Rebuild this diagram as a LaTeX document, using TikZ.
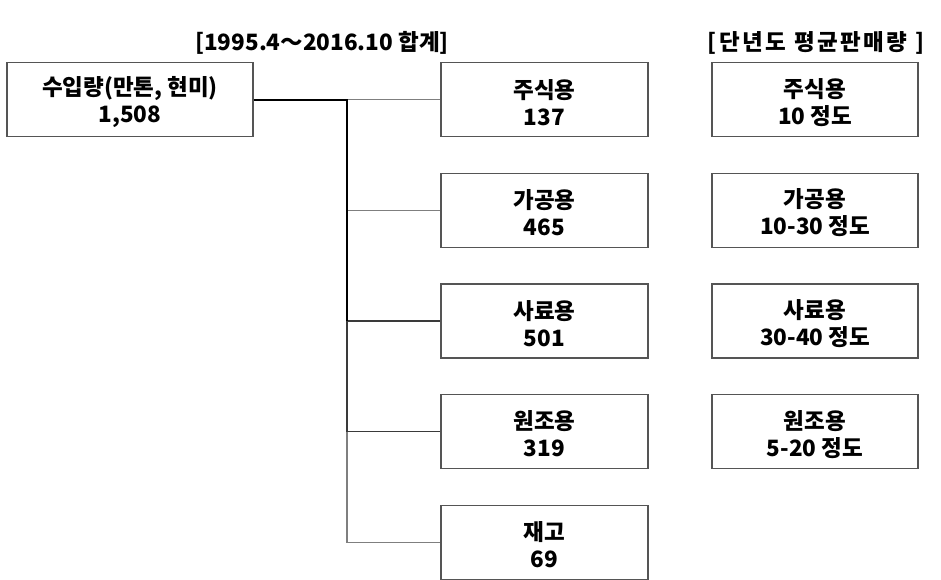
\documentclass[tikz,border=0pt]{standalone}
\usepackage{fontspec}
\newfontfamily\kr{Noto Sans CJK KR}
\newfontfamily\krwide[LetterSpace=11]{Noto Sans CJK KR}
\definecolor{boxline}{HTML}{555555}
\definecolor{branchline}{HTML}{7F7F7F}
\definecolor{midline}{HTML}{3A3A3A}
% taller first line, so the two text lines sit a little low in each box
\newcommand\firststrut{\rule{0pt}{24pt}}
\begin{document}
\begin{tikzpicture}[x=1pt,y=-1pt,
  txt/.style={font=\kr\bfseries\fontsize{22.5}{27}\selectfont, align=center, inner sep=0pt},
  box/.style={txt, draw=boxline, line width=1.2pt, minimum width=207pt, minimum height=74pt},
  mainline/.style={draw=black, line width=2pt},
  secondline/.style={draw=midline, line width=1.6pt},
  branch/.style={draw=branchline, line width=1.3pt}]
\useasboundingbox (0,0) rectangle (941,579);

% column headers
\node[txt] (h1) at (322,43) {[1995.4～2016.10 합계]};
\node[txt, font=\krwide\bfseries\fontsize{22.5}{27}\selectfont] (h2) at (816,43) {[단년도 평균판매량 ]};

% source box
\node[box, minimum width=246pt] (src) at (130,99.7) {\firststrut 수입량(만톤, 현미)\\1,508};

% totals column
\node[box] (m1) at (544.5,99.7) {\firststrut 주식용\\137};
\node[box] (m2) at (544.5,210.3) {\firststrut 가공용\\465};
\node[box] (m3) at (544.5,321) {\firststrut 사료용\\501};
\node[box] (m4) at (544.5,431.6) {\firststrut 원조용\\319};
\node[box] (m5) at (544.5,542.5) {\firststrut 재고\\69};

% yearly average column
\node[box, minimum width=206pt] (a1) at (815,99.7) {\firststrut 주식용\\10 정도};
\node[box, minimum width=206pt] (a2) at (815,210.3) {\firststrut 가공용\\10-30 정도};
\node[box, minimum width=206pt] (a3) at (815,321) {\firststrut 사료용\\30-40 정도};
\node[box, minimum width=206pt] (a4) at (815,431.6) {\firststrut 원조용\\5-20 정도};

% trunk and branches
\coordinate (vx) at (347,0);
\draw[branch] (src.east -| vx) -- (m1.west);
\draw[branch] (m2.west -| vx) -- (m2.west);
\draw[secondline] (m3.west -| vx) -- (m3.west);
\draw[secondline] (m4.west -| vx) -- (m4.west);
\draw[branch] (m5.west -| vx) -- (m5.west);
\draw[branch] (m4.west -| vx) -- (m5.west -| vx);
\draw[secondline] (m3.west -| vx) -- (m4.west -| vx);
\draw[mainline] (src.east) -- (src.east -| vx) -- (m3.west -| vx);
\end{tikzpicture}
\end{document}
